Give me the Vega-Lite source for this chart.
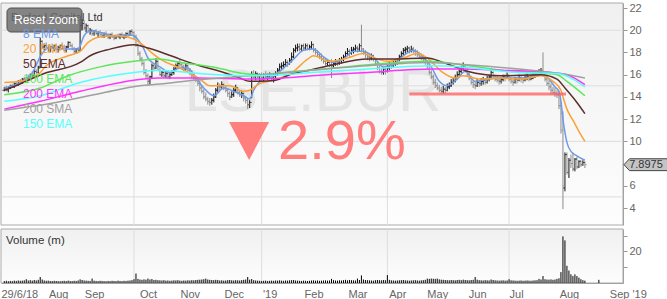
{
"$schema":"https://vega.github.io/schema/vega-lite/v6.json",
"padding":{"left":0,"top":1,"right":0,"bottom":0},
"spacing":4,
"bounds":"flush",
"config":{"font":"Liberation Sans","view":{"stroke":null},"axis":{"domainColor":"#999999","tickColor":"#999999","labelColor":"#666666","labelFontSize":11,"labelOverlap":false}},
"datasets":{
"p":[
{"n":0,"o":14.6,"h":14.9,"l":14.5,"c":14.8,"v":1.2},{"n":1,"o":14.8,"h":15.0,"l":14.5,"c":14.6,"v":1.4},{"n":2,"o":14.6,"h":14.9,"l":14.4,"c":14.8,"v":1.1},{"n":3,"o":14.8,"h":15.1,"l":14.7,"c":15.0,"v":1.3},{"n":4,"o":15.0,"h":15.2,"l":14.8,"c":14.9,"v":1.2},{"n":5,"o":14.9,"h":15.3,"l":14.8,"c":15.2,"v":1.5},{"n":6,"o":15.2,"h":15.4,"l":15.0,"c":15.1,"v":1.3},{"n":7,"o":15.1,"h":15.5,"l":15.0,"c":15.4,"v":1.6},{"n":8,"o":15.4,"h":15.6,"l":15.2,"c":15.3,"v":1.4},{"n":9,"o":15.3,"h":15.7,"l":15.2,"c":15.6,"v":1.5},
{"n":10,"o":15.6,"h":15.8,"l":15.3,"c":15.4,"v":1.7},{"n":11,"o":15.4,"h":15.8,"l":15.3,"c":15.7,"v":2.4},{"n":12,"o":15.7,"h":16.0,"l":15.5,"c":15.6,"v":1.6},{"n":13,"o":15.6,"h":16.1,"l":15.5,"c":16.0,"v":1.8},{"n":14,"o":16.0,"h":16.3,"l":15.8,"c":15.9,"v":1.5},{"n":15,"o":15.9,"h":16.4,"l":15.8,"c":16.3,"v":1.9},{"n":16,"o":16.3,"h":16.5,"l":16.0,"c":16.2,"v":1.6},{"n":17,"o":16.2,"h":16.8,"l":16.1,"c":16.6,"v":2.0},{"n":18,"o":16.7,"h":19.3,"l":16.6,"c":19.0,"v":3.8},{"n":19,"o":19.0,"h":19.1,"l":18.3,"c":18.5,"v":2.2},
{"n":20,"o":18.5,"h":18.8,"l":18.2,"c":18.6,"v":1.6},{"n":21,"o":18.6,"h":18.9,"l":18.3,"c":18.4,"v":1.4},{"n":22,"o":18.4,"h":18.7,"l":18.0,"c":18.2,"v":1.5},{"n":23,"o":18.2,"h":18.6,"l":18.0,"c":18.5,"v":1.3},{"n":24,"o":18.5,"h":18.8,"l":18.3,"c":18.4,"v":1.2},{"n":25,"o":18.4,"h":18.7,"l":18.1,"c":18.6,"v":1.4},{"n":26,"o":18.6,"h":18.8,"l":18.2,"c":18.3,"v":1.3},{"n":27,"o":18.3,"h":18.6,"l":18.0,"c":18.4,"v":1.2},{"n":28,"o":18.4,"h":18.7,"l":18.2,"c":18.6,"v":1.1},{"n":29,"o":18.6,"h":18.9,"l":18.4,"c":18.5,"v":1.3},
{"n":30,"o":18.5,"h":18.7,"l":18.1,"c":18.2,"v":1.4},{"n":31,"o":18.2,"h":18.6,"l":18.0,"c":18.5,"v":1.2},{"n":32,"o":18.5,"h":19.0,"l":18.4,"c":18.9,"v":1.5},{"n":33,"o":18.9,"h":19.0,"l":18.5,"c":18.6,"v":1.3},{"n":34,"o":18.6,"h":18.8,"l":18.2,"c":18.3,"v":1.2},{"n":35,"o":18.3,"h":18.5,"l":17.9,"c":18.1,"v":1.4},{"n":36,"o":18.1,"h":18.4,"l":17.9,"c":18.3,"v":1.3},{"n":37,"o":18.3,"h":18.5,"l":18.0,"c":18.2,"v":1.6},{"n":38,"o":18.2,"h":20.8,"l":18.1,"c":20.4,"v":2.3},{"n":39,"o":20.4,"h":21.0,"l":20.0,"c":20.6,"v":1.9},
{"n":40,"o":20.6,"h":20.9,"l":20.0,"c":20.2,"v":1.6},{"n":41,"o":20.2,"h":20.6,"l":19.8,"c":20.4,"v":1.5},{"n":42,"o":20.4,"h":20.5,"l":19.8,"c":19.9,"v":1.4},{"n":43,"o":19.9,"h":20.2,"l":19.6,"c":20.0,"v":1.3},{"n":44,"o":20.0,"h":20.1,"l":19.5,"c":19.7,"v":2.8},{"n":45,"o":19.7,"h":20.0,"l":19.5,"c":19.9,"v":1.5},{"n":46,"o":19.9,"h":20.1,"l":19.6,"c":19.7,"v":1.3},{"n":47,"o":19.7,"h":19.9,"l":19.4,"c":19.8,"v":1.2},{"n":48,"o":19.8,"h":20.0,"l":19.5,"c":19.6,"v":1.4},{"n":49,"o":19.6,"h":19.8,"l":19.3,"c":19.5,"v":1.3},
{"n":50,"o":19.5,"h":19.8,"l":19.3,"c":19.7,"v":1.2},{"n":51,"o":19.7,"h":19.9,"l":19.4,"c":19.5,"v":1.1},{"n":52,"o":19.5,"h":19.7,"l":19.2,"c":19.4,"v":1.3},{"n":53,"o":19.4,"h":19.7,"l":19.2,"c":19.6,"v":1.2},{"n":54,"o":19.6,"h":19.8,"l":19.3,"c":19.4,"v":1.4},{"n":55,"o":19.4,"h":19.6,"l":19.1,"c":19.3,"v":1.3},{"n":56,"o":19.3,"h":19.6,"l":19.2,"c":19.5,"v":1.2},{"n":57,"o":19.5,"h":19.7,"l":19.3,"c":19.4,"v":1.5},{"n":58,"o":19.4,"h":19.7,"l":19.2,"c":19.6,"v":1.3},{"n":59,"o":19.6,"h":19.8,"l":19.3,"c":19.4,"v":1.2},
{"n":60,"o":19.4,"h":19.6,"l":19.2,"c":19.5,"v":1.4},{"n":61,"o":19.5,"h":19.8,"l":19.3,"c":19.7,"v":1.3},{"n":62,"o":19.7,"h":19.9,"l":19.4,"c":19.6,"v":1.5},{"n":63,"o":19.6,"h":20.0,"l":19.5,"c":19.9,"v":1.6},{"n":64,"o":19.9,"h":20.1,"l":19.6,"c":19.8,"v":1.8},{"n":65,"o":19.8,"h":19.9,"l":19.2,"c":19.4,"v":2.4},{"n":66,"o":19.4,"h":19.6,"l":18.5,"c":18.7,"v":6.0},{"n":67,"o":18.7,"h":18.8,"l":17.7,"c":17.9,"v":2.6},{"n":68,"o":17.9,"h":18.1,"l":17.2,"c":17.4,"v":2.2},{"n":69,"o":17.4,"h":17.6,"l":16.8,"c":17.0,"v":2.0},
{"n":70,"o":17.0,"h":17.2,"l":16.0,"c":16.2,"v":2.3},{"n":71,"o":16.2,"h":16.5,"l":15.6,"c":15.9,"v":2.1},{"n":72,"o":15.9,"h":16.1,"l":15.0,"c":15.4,"v":2.8},{"n":73,"o":15.4,"h":15.9,"l":15.1,"c":15.8,"v":2.2},{"n":74,"o":15.8,"h":17.0,"l":15.7,"c":16.8,"v":2.5},{"n":75,"o":16.8,"h":17.0,"l":16.3,"c":16.6,"v":1.9},{"n":76,"o":16.6,"h":17.5,"l":16.5,"c":17.2,"v":2.0},{"n":77,"o":17.2,"h":17.3,"l":16.3,"c":16.4,"v":1.8},{"n":78,"o":16.4,"h":16.6,"l":15.9,"c":16.0,"v":1.7},{"n":79,"o":16.0,"h":16.4,"l":15.8,"c":16.2,"v":1.6},
{"n":80,"o":16.2,"h":16.4,"l":15.7,"c":15.9,"v":1.8},{"n":81,"o":15.9,"h":16.3,"l":15.7,"c":16.1,"v":1.5},{"n":82,"o":16.1,"h":16.3,"l":15.6,"c":15.8,"v":1.6},{"n":83,"o":15.8,"h":16.2,"l":15.6,"c":16.0,"v":1.4},{"n":84,"o":16.0,"h":16.4,"l":15.9,"c":16.2,"v":1.5},{"n":85,"o":16.2,"h":16.7,"l":16.0,"c":16.5,"v":1.7},{"n":86,"o":16.5,"h":17.0,"l":16.4,"c":16.8,"v":1.6},{"n":87,"o":16.8,"h":17.2,"l":16.6,"c":17.0,"v":1.8},{"n":88,"o":17.0,"h":17.4,"l":16.7,"c":16.9,"v":1.5},{"n":89,"o":16.9,"h":17.1,"l":16.5,"c":16.7,"v":1.4},
{"n":90,"o":16.7,"h":16.9,"l":16.3,"c":16.5,"v":1.6},{"n":91,"o":16.5,"h":17.0,"l":16.4,"c":16.8,"v":1.5},{"n":92,"o":16.8,"h":16.9,"l":16.3,"c":16.4,"v":1.7},{"n":93,"o":16.4,"h":16.6,"l":16.0,"c":16.2,"v":1.6},{"n":94,"o":16.2,"h":16.4,"l":15.7,"c":15.9,"v":1.8},{"n":95,"o":15.9,"h":16.1,"l":15.5,"c":15.7,"v":1.7},{"n":96,"o":15.7,"h":15.9,"l":15.3,"c":15.5,"v":1.9},{"n":97,"o":15.5,"h":15.7,"l":15.0,"c":15.2,"v":2.0},{"n":98,"o":15.2,"h":15.5,"l":14.5,"c":14.8,"v":2.1},{"n":99,"o":14.8,"h":15.0,"l":14.3,"c":14.5,"v":2.2},
{"n":100,"o":14.5,"h":14.7,"l":13.8,"c":14.0,"v":2.4},{"n":101,"o":14.0,"h":14.4,"l":13.6,"c":13.8,"v":2.8},{"n":102,"o":13.8,"h":14.0,"l":13.3,"c":13.6,"v":2.2},{"n":103,"o":13.6,"h":13.9,"l":13.2,"c":13.5,"v":2.0},{"n":104,"o":13.5,"h":13.9,"l":13.3,"c":13.7,"v":1.9},{"n":105,"o":13.7,"h":14.3,"l":13.5,"c":14.0,"v":1.8},{"n":106,"o":14.0,"h":14.8,"l":13.9,"c":14.6,"v":2.0},{"n":107,"o":14.6,"h":15.3,"l":14.4,"c":15.0,"v":1.9},{"n":108,"o":15.0,"h":15.2,"l":14.6,"c":14.9,"v":1.6},{"n":109,"o":14.9,"h":15.4,"l":14.7,"c":15.1,"v":1.7},
{"n":110,"o":15.1,"h":15.2,"l":14.6,"c":14.8,"v":1.5},{"n":111,"o":14.8,"h":15.0,"l":14.4,"c":14.6,"v":1.6},{"n":112,"o":14.6,"h":14.8,"l":14.0,"c":14.3,"v":1.8},{"n":113,"o":14.3,"h":14.5,"l":13.7,"c":14.0,"v":1.9},{"n":114,"o":14.0,"h":14.5,"l":13.9,"c":14.2,"v":1.7},{"n":115,"o":14.2,"h":14.8,"l":14.0,"c":14.6,"v":1.6},{"n":116,"o":14.6,"h":15.1,"l":14.4,"c":14.8,"v":1.8},{"n":117,"o":14.8,"h":14.9,"l":14.2,"c":14.4,"v":1.7},{"n":118,"o":14.4,"h":14.6,"l":14.0,"c":14.2,"v":1.6},{"n":119,"o":14.2,"h":14.6,"l":13.9,"c":14.3,"v":1.8},
{"n":120,"o":14.3,"h":14.4,"l":13.6,"c":13.9,"v":2.0},{"n":121,"o":13.9,"h":14.1,"l":13.4,"c":13.7,"v":2.2},{"n":122,"o":13.7,"h":13.9,"l":12.9,"c":13.3,"v":3.8},{"n":123,"o":13.3,"h":13.7,"l":13.0,"c":13.5,"v":2.1},{"n":124,"o":13.9,"h":16.3,"l":13.9,"c":16.0,"v":2.5},{"n":125,"o":16.0,"h":16.4,"l":15.6,"c":15.8,"v":1.8},{"n":126,"o":15.8,"h":16.3,"l":15.5,"c":16.1,"v":1.6},{"n":127,"o":16.1,"h":16.2,"l":15.6,"c":15.8,"v":1.5},{"n":128,"o":15.8,"h":16.1,"l":15.4,"c":15.9,"v":1.4},{"n":129,"o":15.9,"h":16.2,"l":15.5,"c":15.7,"v":1.3},
{"n":130,"o":15.7,"h":16.1,"l":15.4,"c":16.0,"v":1.4},{"n":131,"o":16.0,"h":16.3,"l":15.6,"c":15.8,"v":1.5},{"n":132,"o":15.8,"h":16.1,"l":15.5,"c":15.9,"v":1.3},{"n":133,"o":15.9,"h":16.2,"l":15.6,"c":16.0,"v":1.4},{"n":134,"o":16.0,"h":16.1,"l":15.4,"c":15.7,"v":1.5},{"n":135,"o":15.7,"h":16.1,"l":15.3,"c":15.9,"v":1.4},{"n":136,"o":15.9,"h":16.3,"l":15.7,"c":16.1,"v":1.6},{"n":137,"o":16.1,"h":16.6,"l":15.9,"c":16.4,"v":1.5},{"n":138,"o":16.4,"h":17.0,"l":16.2,"c":16.7,"v":1.7},{"n":139,"o":16.7,"h":17.1,"l":16.4,"c":16.8,"v":1.5},
{"n":140,"o":16.8,"h":17.2,"l":16.5,"c":16.9,"v":1.4},{"n":141,"o":16.9,"h":17.4,"l":16.7,"c":17.1,"v":1.6},{"n":142,"o":17.1,"h":17.3,"l":16.7,"c":17.0,"v":1.5},{"n":143,"o":17.0,"h":17.5,"l":16.9,"c":17.3,"v":1.7},{"n":144,"o":17.3,"h":18.0,"l":17.1,"c":17.6,"v":1.8},{"n":145,"o":17.6,"h":18.4,"l":17.5,"c":18.2,"v":1.9},{"n":146,"o":18.2,"h":18.7,"l":18.0,"c":18.4,"v":1.6},{"n":147,"o":18.4,"h":18.8,"l":18.1,"c":18.5,"v":1.5},{"n":148,"o":18.5,"h":18.8,"l":18.1,"c":18.3,"v":1.4},{"n":149,"o":18.3,"h":18.7,"l":18.1,"c":18.6,"v":1.3},
{"n":150,"o":18.6,"h":18.8,"l":18.2,"c":18.4,"v":1.5},{"n":151,"o":18.4,"h":18.8,"l":18.2,"c":18.6,"v":1.4},{"n":152,"o":18.6,"h":18.8,"l":18.2,"c":18.3,"v":1.3},{"n":153,"o":18.3,"h":18.7,"l":18.2,"c":18.5,"v":1.4},{"n":154,"o":18.5,"h":19.0,"l":18.3,"c":18.7,"v":1.6},{"n":155,"o":18.7,"h":18.8,"l":18.0,"c":18.2,"v":1.7},{"n":156,"o":18.2,"h":18.4,"l":17.8,"c":18.0,"v":1.5},{"n":157,"o":18.0,"h":18.2,"l":17.6,"c":17.8,"v":1.6},{"n":158,"o":17.8,"h":18.0,"l":17.4,"c":17.6,"v":1.4},{"n":159,"o":17.6,"h":17.9,"l":17.2,"c":17.4,"v":1.5},
{"n":160,"o":17.4,"h":17.6,"l":17.0,"c":17.2,"v":1.6},{"n":161,"o":17.2,"h":17.4,"l":16.8,"c":17.0,"v":1.7},{"n":162,"o":17.0,"h":17.4,"l":16.8,"c":17.1,"v":1.5},{"n":163,"o":17.1,"h":17.3,"l":16.7,"c":16.9,"v":1.6},{"n":164,"o":16.9,"h":17.4,"l":15.7,"c":16.8,"v":2.6},{"n":165,"o":16.8,"h":17.2,"l":16.6,"c":17.0,"v":1.8},{"n":166,"o":17.0,"h":17.4,"l":16.8,"c":17.2,"v":1.6},{"n":167,"o":17.2,"h":17.3,"l":16.8,"c":17.1,"v":1.5},{"n":168,"o":17.1,"h":17.5,"l":16.9,"c":17.3,"v":1.7},{"n":169,"o":17.3,"h":17.6,"l":17.0,"c":17.4,"v":1.6},
{"n":170,"o":17.4,"h":17.8,"l":17.2,"c":17.6,"v":1.8},{"n":171,"o":17.6,"h":18.1,"l":17.4,"c":17.9,"v":2.0},{"n":172,"o":17.9,"h":18.4,"l":17.7,"c":18.1,"v":1.7},{"n":173,"o":18.1,"h":18.3,"l":17.6,"c":17.9,"v":1.9},{"n":174,"o":17.9,"h":18.5,"l":17.8,"c":18.2,"v":1.8},{"n":175,"o":18.2,"h":18.5,"l":17.9,"c":18.3,"v":1.7},{"n":176,"o":18.3,"h":18.7,"l":18.1,"c":18.4,"v":1.6},{"n":177,"o":18.4,"h":18.6,"l":18.0,"c":18.3,"v":2.8},{"n":178,"o":18.3,"h":18.8,"l":18.1,"c":18.6,"v":1.9},{"n":179,"o":18.6,"h":20.5,"l":18.0,"c":18.3,"v":4.8},
{"n":180,"o":18.3,"h":18.4,"l":17.8,"c":18.0,"v":2.2},{"n":181,"o":18.0,"h":18.2,"l":17.5,"c":17.8,"v":1.9},{"n":182,"o":17.8,"h":18.0,"l":17.3,"c":17.6,"v":1.8},{"n":183,"o":17.6,"h":17.9,"l":17.2,"c":17.5,"v":1.7},{"n":184,"o":17.5,"h":17.9,"l":17.3,"c":17.7,"v":1.6},{"n":185,"o":17.7,"h":17.8,"l":17.2,"c":17.4,"v":1.5},{"n":186,"o":17.4,"h":17.5,"l":16.8,"c":17.0,"v":1.8},{"n":187,"o":17.0,"h":17.2,"l":16.4,"c":16.6,"v":1.9},{"n":188,"o":16.6,"h":16.8,"l":16.1,"c":16.3,"v":1.8},{"n":189,"o":16.3,"h":16.6,"l":16.0,"c":16.2,"v":1.7},
{"n":190,"o":16.2,"h":16.7,"l":16.0,"c":16.5,"v":1.9},{"n":191,"o":16.5,"h":16.6,"l":16.0,"c":16.3,"v":1.8},{"n":192,"o":16.3,"h":17.0,"l":16.2,"c":16.6,"v":5.0},{"n":193,"o":16.6,"h":17.2,"l":16.4,"c":16.9,"v":2.0},{"n":194,"o":16.9,"h":17.1,"l":16.5,"c":16.8,"v":1.7},{"n":195,"o":16.8,"h":17.3,"l":16.7,"c":17.0,"v":1.6},{"n":196,"o":17.0,"h":17.4,"l":16.8,"c":17.1,"v":1.5},{"n":197,"o":17.1,"h":17.5,"l":16.9,"c":17.3,"v":1.6},{"n":198,"o":17.3,"h":17.8,"l":17.2,"c":17.6,"v":1.7},{"n":199,"o":17.6,"h":18.1,"l":17.4,"c":17.9,"v":1.8},
{"n":200,"o":17.9,"h":18.4,"l":17.7,"c":18.2,"v":1.9},{"n":201,"o":18.2,"h":18.5,"l":17.9,"c":18.3,"v":1.7},{"n":202,"o":18.3,"h":18.6,"l":18.0,"c":18.4,"v":1.6},{"n":203,"o":18.4,"h":18.5,"l":17.9,"c":18.2,"v":1.5},{"n":204,"o":18.2,"h":18.6,"l":18.0,"c":18.3,"v":1.6},{"n":205,"o":18.3,"h":18.5,"l":17.9,"c":18.1,"v":1.7},{"n":206,"o":18.1,"h":18.3,"l":17.7,"c":17.9,"v":1.8},{"n":207,"o":17.9,"h":18.2,"l":17.6,"c":17.8,"v":1.6},{"n":208,"o":17.8,"h":18.0,"l":17.4,"c":17.6,"v":1.5},{"n":209,"o":17.6,"h":17.9,"l":17.3,"c":17.5,"v":1.7},
{"n":210,"o":17.5,"h":17.8,"l":17.2,"c":17.4,"v":1.8},{"n":211,"o":17.4,"h":17.6,"l":16.9,"c":17.1,"v":2.0},{"n":212,"o":17.1,"h":17.3,"l":16.5,"c":16.8,"v":2.8},{"n":213,"o":16.8,"h":16.9,"l":16.0,"c":16.2,"v":2.6},{"n":214,"o":16.2,"h":16.4,"l":15.6,"c":15.8,"v":2.8},{"n":215,"o":15.8,"h":16.0,"l":15.1,"c":15.3,"v":2.7},{"n":216,"o":15.3,"h":15.6,"l":14.8,"c":15.0,"v":2.6},{"n":217,"o":15.0,"h":15.3,"l":14.6,"c":14.8,"v":2.8},{"n":218,"o":14.8,"h":15.1,"l":14.4,"c":14.6,"v":2.3},{"n":219,"o":14.6,"h":14.9,"l":14.3,"c":14.5,"v":2.1},
{"n":220,"o":14.5,"h":15.0,"l":14.3,"c":14.7,"v":2.0},{"n":221,"o":14.7,"h":14.9,"l":14.3,"c":14.6,"v":1.9},{"n":222,"o":14.6,"h":15.2,"l":14.5,"c":14.9,"v":1.8},{"n":223,"o":14.9,"h":15.3,"l":14.7,"c":15.0,"v":1.7},{"n":224,"o":15.0,"h":15.6,"l":14.9,"c":15.3,"v":1.9},{"n":225,"o":15.3,"h":15.7,"l":15.1,"c":15.4,"v":1.8},{"n":226,"o":15.4,"h":16.0,"l":15.3,"c":15.7,"v":1.7},{"n":227,"o":15.7,"h":16.3,"l":15.6,"c":16.0,"v":1.9},{"n":228,"o":16.0,"h":16.6,"l":15.9,"c":16.3,"v":2.0},{"n":229,"o":16.3,"h":16.8,"l":16.1,"c":16.5,"v":1.8},
{"n":230,"o":16.5,"h":17.1,"l":16.4,"c":16.8,"v":2.1},{"n":231,"o":16.8,"h":16.9,"l":16.2,"c":16.4,"v":1.9},{"n":232,"o":16.4,"h":16.6,"l":15.8,"c":16.0,"v":1.8},{"n":233,"o":16.0,"h":16.2,"l":15.5,"c":15.7,"v":1.7},{"n":234,"o":15.7,"h":15.9,"l":15.1,"c":15.3,"v":1.9},{"n":235,"o":15.3,"h":15.5,"l":14.8,"c":15.1,"v":2.0},{"n":236,"o":15.1,"h":15.4,"l":14.7,"c":15.0,"v":3.8},{"n":237,"o":15.0,"h":15.6,"l":14.9,"c":15.3,"v":2.1},{"n":238,"o":15.3,"h":15.5,"l":14.9,"c":15.2,"v":1.8},{"n":239,"o":15.2,"h":15.7,"l":15.0,"c":15.4,"v":1.7},
{"n":240,"o":15.4,"h":15.8,"l":15.1,"c":15.5,"v":1.6},{"n":241,"o":15.5,"h":15.7,"l":15.1,"c":15.3,"v":1.8},{"n":242,"o":15.3,"h":15.9,"l":15.2,"c":15.6,"v":1.7},{"n":243,"o":15.6,"h":16.0,"l":15.4,"c":15.8,"v":1.6},{"n":244,"o":15.8,"h":16.6,"l":15.7,"c":16.2,"v":2.2},{"n":245,"o":16.2,"h":16.3,"l":15.7,"c":15.9,"v":1.9},{"n":246,"o":15.9,"h":16.0,"l":15.4,"c":15.6,"v":1.7},{"n":247,"o":15.6,"h":15.9,"l":15.3,"c":15.5,"v":1.6},{"n":248,"o":15.5,"h":15.8,"l":15.1,"c":15.4,"v":1.5},{"n":249,"o":15.4,"h":15.8,"l":15.2,"c":15.6,"v":1.6},
{"n":250,"o":15.6,"h":16.0,"l":15.4,"c":15.8,"v":1.7},{"n":251,"o":15.8,"h":16.0,"l":15.4,"c":15.7,"v":1.5},{"n":252,"o":15.7,"h":16.2,"l":15.6,"c":15.9,"v":1.6},{"n":253,"o":15.9,"h":16.0,"l":15.4,"c":15.6,"v":2.4},{"n":254,"o":15.6,"h":15.8,"l":15.2,"c":15.4,"v":1.7},{"n":255,"o":15.4,"h":15.6,"l":15.0,"c":15.3,"v":1.6},{"n":256,"o":15.3,"h":15.8,"l":15.2,"c":15.6,"v":1.5},{"n":257,"o":15.6,"h":15.8,"l":15.2,"c":15.5,"v":1.4},{"n":258,"o":15.5,"h":16.0,"l":15.4,"c":15.7,"v":1.5},{"n":259,"o":15.7,"h":15.9,"l":15.3,"c":15.6,"v":1.6},
{"n":260,"o":15.6,"h":15.8,"l":15.2,"c":15.5,"v":1.4},{"n":261,"o":15.5,"h":16.0,"l":15.4,"c":15.7,"v":1.5},{"n":262,"o":15.7,"h":16.1,"l":15.5,"c":15.8,"v":1.6},{"n":263,"o":15.8,"h":16.0,"l":15.4,"c":15.6,"v":1.5},{"n":264,"o":15.6,"h":16.0,"l":15.5,"c":15.7,"v":1.4},{"n":265,"o":15.7,"h":16.2,"l":15.6,"c":15.9,"v":1.6},{"n":266,"o":15.9,"h":16.3,"l":15.7,"c":16.0,"v":1.7},{"n":267,"o":16.0,"h":16.4,"l":15.8,"c":16.1,"v":1.8},{"n":268,"o":16.1,"h":16.5,"l":15.9,"c":16.2,"v":2.6},{"n":269,"o":16.2,"h":16.6,"l":16.0,"c":16.3,"v":2.2},
{"n":270,"o":16.4,"h":18.0,"l":15.8,"c":16.1,"v":4.4},{"n":271,"o":16.1,"h":16.2,"l":15.4,"c":15.6,"v":2.4},{"n":272,"o":15.6,"h":15.8,"l":15.0,"c":15.2,"v":2.2},{"n":273,"o":15.2,"h":15.5,"l":14.6,"c":14.9,"v":2.1},{"n":274,"o":14.9,"h":15.2,"l":14.2,"c":14.6,"v":2.3},{"n":275,"o":14.6,"h":14.9,"l":14.2,"c":14.4,"v":2.0},{"n":276,"o":14.4,"h":14.8,"l":14.0,"c":14.3,"v":2.2},{"n":277,"o":14.3,"h":14.6,"l":13.9,"c":14.2,"v":2.6},{"n":278,"o":14.2,"h":14.5,"l":12.9,"c":13.2,"v":3.0},{"n":279,"o":13.2,"h":13.6,"l":10.7,"c":11.0,"v":6.9},
{"n":280,"o":12.5,"h":12.7,"l":3.9,"c":6.0,"v":29.5},{"n":281,"o":5.8,"h":9.0,"l":5.5,"c":8.8,"v":27.0},{"n":282,"o":8.8,"h":9.0,"l":7.0,"c":7.2,"v":10.9},{"n":283,"o":7.2,"h":8.5,"l":6.7,"c":8.3,"v":7.9},{"n":284,"o":8.3,"h":8.8,"l":7.6,"c":8.0,"v":5.5},{"n":285,"o":8.0,"h":9.0,"l":7.3,"c":7.5,"v":4.4},{"n":286,"o":7.5,"h":8.5,"l":7.3,"c":8.4,"v":5.5},{"n":287,"o":8.4,"h":8.6,"l":7.5,"c":7.7,"v":4.4},{"n":288,"o":7.7,"h":8.3,"l":7.6,"c":8.2,"v":3.4},{"n":289,"o":8.2,"h":8.3,"l":7.7,"c":7.9,"v":2.4},
{"n":290,"o":7.9,"h":8.3,"l":7.8,"c":8.1,"v":1.8},{"n":291,"o":8.1,"h":8.2,"l":7.6,"c":7.8975,"v":1.5},{"n":298,"v":2.0}
],
"ema":[
{"s":"8 EMA","n":0,"v":14.8},{"s":"8 EMA","n":13,"v":15.9},{"s":"8 EMA","n":19,"v":17.9},{"s":"8 EMA","n":22,"v":18.4},{"s":"8 EMA","n":32,"v":18.3},{"s":"8 EMA","n":37,"v":18.3},{"s":"8 EMA","n":40,"v":19.5},{"s":"8 EMA","n":43,"v":19.9},{"s":"8 EMA","n":48,"v":19.8},{"s":"8 EMA","n":55,"v":19.5},{"s":"8 EMA","n":62,"v":19.6},{"s":"8 EMA","n":65,"v":19.5},{"s":"8 EMA","n":68,"v":18.9},{"s":"8 EMA","n":70,"v":18.3},{"s":"8 EMA","n":72,"v":17.5},{"s":"8 EMA","n":75,"v":17.0},{"s":"8 EMA","n":78,"v":16.7},{"s":"8 EMA","n":83,"v":16.2},{"s":"8 EMA","n":88,"v":16.6},{"s":"8 EMA","n":92,"v":16.6},{"s":"8 EMA","n":95,"v":16.0},{"s":"8 EMA","n":100,"v":14.8},{"s":"8 EMA","n":105,"v":14.1},{"s":"8 EMA","n":110,"v":14.8},{"s":"8 EMA","n":115,"v":14.5},{"s":"8 EMA","n":120,"v":14.1},{"s":"8 EMA","n":123,"v":13.8},{"s":"8 EMA","n":125,"v":14.6},{"s":"8 EMA","n":129,"v":15.5},{"s":"8 EMA","n":135,"v":15.9},{"s":"8 EMA","n":140,"v":16.6},{"s":"8 EMA","n":145,"v":17.4},{"s":"8 EMA","n":150,"v":18.2},{"s":"8 EMA","n":155,"v":18.3},{"s":"8 EMA","n":160,"v":17.6},{"s":"8 EMA","n":165,"v":17.1},{"s":"8 EMA","n":170,"v":17.4},{"s":"8 EMA","n":175,"v":18.1},{"s":"8 EMA","n":180,"v":18.1},{"s":"8 EMA","n":185,"v":17.6},{"s":"8 EMA","n":190,"v":16.7},{"s":"8 EMA","n":195,"v":16.9},{"s":"8 EMA","n":200,"v":17.7},{"s":"8 EMA","n":205,"v":18.2},{"s":"8 EMA","n":210,"v":17.6},{"s":"8 EMA","n":214,"v":16.7},{"s":"8 EMA","n":218,"v":15.4},{"s":"8 EMA","n":222,"v":15.0},{"s":"8 EMA","n":227,"v":15.6},{"s":"8 EMA","n":231,"v":16.3},{"s":"8 EMA","n":236,"v":15.4},{"s":"8 EMA","n":243,"v":15.6},{"s":"8 EMA","n":248,"v":15.7},{"s":"8 EMA","n":253,"v":15.7},{"s":"8 EMA","n":262,"v":15.7},{"s":"8 EMA","n":269,"v":16.1},{"s":"8 EMA","n":272,"v":15.8},{"s":"8 EMA","n":276,"v":14.9},{"s":"8 EMA","n":278,"v":14.5},{"s":"8 EMA","n":279,"v":13.6},{"s":"8 EMA","n":280,"v":12.0},{"s":"8 EMA","n":281,"v":10.8},{"s":"8 EMA","n":282,"v":9.9},{"s":"8 EMA","n":284,"v":9.1},{"s":"8 EMA","n":287,"v":8.7},{"s":"8 EMA","n":291,"v":8.3},
{"s":"20 EMA","n":0,"v":15.3},{"s":"20 EMA","n":8,"v":15.4},{"s":"20 EMA","n":17,"v":16.0},{"s":"20 EMA","n":21,"v":16.8},{"s":"20 EMA","n":32,"v":17.7},{"s":"20 EMA","n":38,"v":18.1},{"s":"20 EMA","n":42,"v":18.9},{"s":"20 EMA","n":48,"v":19.4},{"s":"20 EMA","n":57,"v":19.5},{"s":"20 EMA","n":65,"v":19.2},{"s":"20 EMA","n":70,"v":18.6},{"s":"20 EMA","n":75,"v":17.8},{"s":"20 EMA","n":79,"v":17.3},{"s":"20 EMA","n":88,"v":16.6},{"s":"20 EMA","n":98,"v":15.6},{"s":"20 EMA","n":103,"v":15.0},{"s":"20 EMA","n":113,"v":15.0},{"s":"20 EMA","n":120,"v":14.5},{"s":"20 EMA","n":123,"v":14.6},{"s":"20 EMA","n":128,"v":15.2},{"s":"20 EMA","n":137,"v":15.6},{"s":"20 EMA","n":145,"v":16.3},{"s":"20 EMA","n":152,"v":17.4},{"s":"20 EMA","n":155,"v":17.7},{"s":"20 EMA","n":163,"v":17.2},{"s":"20 EMA","n":172,"v":17.5},{"s":"20 EMA","n":180,"v":17.9},{"s":"20 EMA","n":187,"v":17.4},{"s":"20 EMA","n":192,"v":17.2},{"s":"20 EMA","n":200,"v":17.5},{"s":"20 EMA","n":207,"v":17.9},{"s":"20 EMA","n":212,"v":17.5},{"s":"20 EMA","n":219,"v":16.3},{"s":"20 EMA","n":226,"v":15.7},{"s":"20 EMA","n":230,"v":15.9},{"s":"20 EMA","n":239,"v":15.6},{"s":"20 EMA","n":249,"v":15.7},{"s":"20 EMA","n":259,"v":15.6},{"s":"20 EMA","n":269,"v":15.9},{"s":"20 EMA","n":275,"v":15.4},{"s":"20 EMA","n":279,"v":14.6},{"s":"20 EMA","n":280,"v":14.0},{"s":"20 EMA","n":282,"v":12.9},{"s":"20 EMA","n":285,"v":11.9},{"s":"20 EMA","n":288,"v":10.9},{"s":"20 EMA","n":291,"v":10.0},
{"s":"50 EMA","n":0,"v":14.6},{"s":"50 EMA","n":3,"v":14.8},{"s":"50 EMA","n":20,"v":16.1},{"s":"50 EMA","n":38,"v":17.1},{"s":"50 EMA","n":43,"v":17.7},{"s":"50 EMA","n":53,"v":18.3},{"s":"50 EMA","n":65,"v":18.7},{"s":"50 EMA","n":72,"v":18.4},{"s":"50 EMA","n":79,"v":18.0},{"s":"50 EMA","n":88,"v":17.4},{"s":"50 EMA","n":98,"v":16.8},{"s":"50 EMA","n":108,"v":16.3},{"s":"50 EMA","n":118,"v":15.7},{"s":"50 EMA","n":123,"v":15.4},{"s":"50 EMA","n":128,"v":15.4},{"s":"50 EMA","n":136,"v":15.5},{"s":"50 EMA","n":143,"v":16.0},{"s":"50 EMA","n":153,"v":16.4},{"s":"50 EMA","n":165,"v":16.9},{"s":"50 EMA","n":182,"v":17.4},{"s":"50 EMA","n":195,"v":17.4},{"s":"50 EMA","n":212,"v":17.5},{"s":"50 EMA","n":220,"v":17.1},{"s":"50 EMA","n":229,"v":16.5},{"s":"50 EMA","n":232,"v":16.3},{"s":"50 EMA","n":249,"v":15.9},{"s":"50 EMA","n":269,"v":16.0},{"s":"50 EMA","n":277,"v":15.6},{"s":"50 EMA","n":281,"v":14.8},{"s":"50 EMA","n":287,"v":13.5},{"s":"50 EMA","n":291,"v":12.5},
{"s":"100 EMA","n":0,"v":14.2},{"s":"100 EMA","n":18,"v":14.8},{"s":"100 EMA","n":32,"v":15.9},{"s":"100 EMA","n":48,"v":16.7},{"s":"100 EMA","n":65,"v":17.2},{"s":"100 EMA","n":77,"v":17.4},{"s":"100 EMA","n":88,"v":17.1},{"s":"100 EMA","n":107,"v":16.6},{"s":"100 EMA","n":120,"v":16.1},{"s":"100 EMA","n":128,"v":16.0},{"s":"100 EMA","n":140,"v":16.2},{"s":"100 EMA","n":153,"v":16.4},{"s":"100 EMA","n":165,"v":16.6},{"s":"100 EMA","n":190,"v":17.0},{"s":"100 EMA","n":212,"v":17.2},{"s":"100 EMA","n":229,"v":16.9},{"s":"100 EMA","n":249,"v":16.4},{"s":"100 EMA","n":271,"v":16.1},{"s":"100 EMA","n":277,"v":16.0},{"s":"100 EMA","n":282,"v":15.4},{"s":"100 EMA","n":291,"v":14.1},
{"s":"200 EMA","n":0,"v":12.9},{"s":"200 EMA","n":18,"v":13.6},{"s":"200 EMA","n":38,"v":14.5},{"s":"200 EMA","n":65,"v":15.5},{"s":"200 EMA","n":77,"v":15.7},{"s":"200 EMA","n":98,"v":15.7},{"s":"200 EMA","n":124,"v":15.6},{"s":"200 EMA","n":140,"v":15.7},{"s":"200 EMA","n":154,"v":15.9},{"s":"200 EMA","n":182,"v":16.2},{"s":"200 EMA","n":215,"v":16.5},{"s":"200 EMA","n":229,"v":16.5},{"s":"200 EMA","n":249,"v":16.4},{"s":"200 EMA","n":274,"v":16.2},{"s":"200 EMA","n":282,"v":16.0},{"s":"200 EMA","n":291,"v":15.1},
{"s":"200 SMA","n":0,"v":12.8},{"s":"200 SMA","n":23,"v":13.4},{"s":"200 SMA","n":48,"v":14.3},{"s":"200 SMA","n":68,"v":15.0},{"s":"200 SMA","n":78,"v":15.15},{"s":"200 SMA","n":95,"v":15.5},{"s":"200 SMA","n":124,"v":15.9},{"s":"200 SMA","n":154,"v":16.4},{"s":"200 SMA","n":182,"v":16.8},{"s":"200 SMA","n":212,"v":17.1},{"s":"200 SMA","n":232,"v":16.9},{"s":"200 SMA","n":269,"v":16.3},{"s":"200 SMA","n":279,"v":16.1},{"s":"200 SMA","n":291,"v":15.7},
{"s":"150 EMA","n":0,"v":13.6},{"s":"150 EMA","n":18,"v":14.1},{"s":"150 EMA","n":38,"v":15.3},{"s":"150 EMA","n":65,"v":16.2},{"s":"150 EMA","n":77,"v":16.4},{"s":"150 EMA","n":98,"v":16.1},{"s":"150 EMA","n":124,"v":15.9},{"s":"150 EMA","n":140,"v":16.0},{"s":"150 EMA","n":154,"v":16.2},{"s":"150 EMA","n":182,"v":16.5},{"s":"150 EMA","n":215,"v":16.8},{"s":"150 EMA","n":229,"v":16.7},{"s":"150 EMA","n":257,"v":16.2},{"s":"150 EMA","n":277,"v":16.1},{"s":"150 EMA","n":285,"v":15.6},{"s":"150 EMA","n":291,"v":14.9}
]
},
"vconcat":[
{
"width":622,"height":222,
"layer":[
{"data":{"values":[{}]},"mark":{"type":"rect","stroke":"#aaaaaa","strokeWidth":1,"fill":{"gradient":"linear","x1":0,"y1":0,"x2":0,"y2":1,"stops":[{"offset":0,"color":"#f0f0f0"},{"offset":1,"color":"#fdfdfd"}]}},
 "encoding":{"x":{"datum":-1.65,"type":"quantitative","axis":null},"x2":{"datum":310.1},
 "y":{"datum":2.47,"type":"quantitative","scale":{"domain":[2.47,22.45],"nice":false,"zero":false},"axis":{"orient":"right","values":[4,6,8,10,12,14,16,18,20,22],"tickCount":20,"labelExpr":"datum.value == 8 ? '' : datum.label","labelOverlap":false,"title":null,"grid":false,"tickSize":4,"labelPadding":2}},"y2":{"datum":22.45}}},
{"data":{"values":[{"g":5},{"g":10},{"g":15},{"g":20}]},"mark":{"type":"rule","color":"#dddddd","strokeWidth":1},"encoding":{"y":{"field":"g","type":"quantitative"}}},
{"data":{"values":[{"g":65},{"g":129},{"g":192},{"g":253}]},"mark":{"type":"rule","color":"#dddddd","strokeWidth":1},"encoding":{"x":{"field":"g","type":"quantitative","axis":null}}},
{"data":{"values":[{"t":"LSE.BUR"}]},"mark":{"type":"text","fontSize":60,"color":"#e4e4e4","align":"center","baseline":"alphabetic"},"encoding":{"text":{"field":"t"},"x":{"datum":154.7,"type":"quantitative","axis":null},"y":{"datum":12.75,"type":"quantitative"}}},
{"data":{"name":"p"},"mark":{"type":"rule","strokeWidth":1},
 "encoding":{"x":{"field":"n","type":"quantitative","scale":{"domain":[-1.65,310.1],"nice":false,"zero":false},"axis":null},
 "y":{"field":"l","type":"quantitative","scale":{"domain":[2.47,22.45],"nice":false,"zero":false},"axis":{"orient":"right","values":[4,6,8,10,12,14,16,18,20,22],"tickCount":20,"labelExpr":"datum.value == 8 ? '' : datum.label","labelOverlap":false,"title":null,"grid":false,"tickSize":4,"labelPadding":2}},
 "y2":{"field":"h"},
 "color":{"condition":{"test":"datum.c >= datum.o","value":"#111111"},"value":"#8c8c8c"}}},
{"data":{"name":"p"},"mark":{"type":"tick","orient":"horizontal","size":2,"thickness":1,"xOffset":-1},
 "encoding":{"x":{"field":"n","type":"quantitative","axis":null},"y":{"field":"o","type":"quantitative"},"color":{"condition":{"test":"datum.c >= datum.o","value":"#111111"},"value":"#8c8c8c"}}},
{"data":{"name":"p"},"mark":{"type":"tick","orient":"horizontal","size":2,"thickness":1,"xOffset":1},
 "encoding":{"x":{"field":"n","type":"quantitative","axis":null},"y":{"field":"c","type":"quantitative"},"color":{"condition":{"test":"datum.c >= datum.o","value":"#111111"},"value":"#8c8c8c"}}},
{"data":{"name":"ema"},"mark":{"type":"line","strokeWidth":1.5,"interpolate":"monotone"},
 "encoding":{"x":{"field":"n","type":"quantitative","axis":null},"y":{"field":"v","type":"quantitative"},
 "color":{"field":"s","type":"nominal","scale":{"domain":["8 EMA","20 EMA","50 EMA","100 EMA","200 EMA","200 SMA","150 EMA"],"range":["#6f9ae6","#f9a135","#5c2d2d","#5ce65c","#ff33ff","#a0a0a0","#55ffff"]},
 "legend":{"orient":"none","legendX":10,"legendY":25,"title":null,"symbolSize":0,"symbolStrokeWidth":0,"symbolOpacity":0,"labelOffset":0,"labelFontSize":12,"rowPadding":3,"padding":0,"labelLimit":200,
 "encode":{"labels":{"update":{"fill":{"signal":"datum.value == '8 EMA' ? '#6f9ae6' : datum.value == '20 EMA' ? '#f9a135' : datum.value == '50 EMA' ? '#5c2d2d' : datum.value == '100 EMA' ? '#5ce65c' : datum.value == '200 EMA' ? '#ff33ff' : datum.value == '200 SMA' ? '#a0a0a0' : '#55ffff'"}}}}}}}},
{"data":{"values":[{"a":203,"b":281.5,"y":14.25}]},"mark":{"type":"rule","color":"#ff5c5c","strokeWidth":3,"opacity":0.75},
 "encoding":{"x":{"field":"a","type":"quantitative","axis":null},"x2":{"field":"b"},"y":{"field":"y","type":"quantitative"}}},
{"data":{"values":[{}]},"mark":{"type":"point","shape":"M-1,-0.95L1,-0.95L0,0.95Z","size":1600,"filled":true,"color":"#ff7f7f","opacity":1,"strokeWidth":0},
 "encoding":{"x":{"datum":122.7,"type":"quantitative","axis":null},"y":{"datum":10.03,"type":"quantitative"}}},
{"data":{"values":[{"t":"2.9%"}]},"mark":{"type":"text","fontSize":56,"color":"#ff7f7f","align":"left","baseline":"alphabetic"},
 "encoding":{"text":{"field":"t"},"x":{"datum":137.2,"type":"quantitative","axis":null},"y":{"datum":8.41,"type":"quantitative"}}},
{"data":{"values":[{"t":"Burford Capital Ltd"}]},"mark":{"type":"text","fontSize":11,"color":"#333333","align":"left","baseline":"alphabetic"},
 "encoding":{"text":{"field":"t"},"x":{"datum":3.36,"type":"quantitative","axis":null},"y":{"datum":20.8,"type":"quantitative"}}},
{"data":{"values":[{}]},"mark":{"type":"rect","cornerRadius":4,"fill":"#6b6b6b","fillOpacity":0.82,"stroke":"#505050","strokeWidth":1},
 "encoding":{"x":{"datum":1.35,"type":"quantitative","axis":null},"x2":{"datum":38.95},"y":{"datum":22.0,"type":"quantitative"},"y2":{"datum":19.84}}},
{"data":{"values":[{"t":"Reset zoom"}]},"mark":{"type":"text","fontSize":12,"color":"#ffffff","align":"left","baseline":"alphabetic"},
 "encoding":{"text":{"field":"t"},"x":{"datum":4.86,"type":"quantitative","axis":null},"y":{"datum":20.6,"type":"quantitative"}}},
{"data":{"values":[{"last":7.8975}]},"mark":{"type":"point","shape":"M0,0L0.25,-0.27L2,-0.27L2,0.27L0.25,0.27Z","size":1936,"filled":true,"fill":"#c4c4c4","stroke":"#444444","strokeWidth":1,"opacity":1},
 "encoding":{"x":{"datum":310.6,"type":"quantitative","axis":null},"y":{"field":"last","type":"quantitative"}}},
{"data":{"values":[{"last":7.8975}]},"mark":{"type":"text","fontSize":11,"color":"#333333","align":"center","baseline":"middle","dx":22},
 "encoding":{"text":{"field":"last","format":".4f"},"x":{"datum":310.6,"type":"quantitative","axis":null},"y":{"field":"last","type":"quantitative"}}}
]
},
{
"width":622,"height":54,
"layer":[
{"data":{"values":[{}]},"mark":{"type":"rect","stroke":"#aaaaaa","strokeWidth":1,"fill":{"gradient":"linear","x1":0,"y1":0,"x2":0,"y2":1,"stops":[{"offset":0,"color":"#f0f0f0"},{"offset":1,"color":"#fdfdfd"}]}},
 "encoding":{"x":{"datum":-1.65,"type":"quantitative"},"x2":{"datum":310.1},"y":{"datum":0,"type":"quantitative"},"y2":{"datum":34.2}}},
{"data":{"values":[{"g":65},{"g":129},{"g":192},{"g":253}]},"mark":{"type":"rule","color":"#dddddd","strokeWidth":1},"encoding":{"x":{"field":"g","type":"quantitative"}}},
{"data":{"name":"p"},"mark":{"type":"rule","color":"#000000","strokeWidth":1},
 "encoding":{"x":{"field":"n","type":"quantitative","scale":{"domain":[-1.65,310.1],"nice":false,"zero":false},
  "axis":{"values":[-1.65,27,45,72,93,115,133,155,177,197,217,237,256.5,283,310],"tickCount":40,
  "labelExpr":"datum.value < 0 ? '29/6/18' : datum.value < 30 ? 'Aug' : datum.value < 50 ? 'Sep' : datum.value < 80 ? 'Oct' : datum.value < 100 ? 'Nov' : datum.value < 120 ? 'Dec' : datum.value < 140 ? \"'19\" : datum.value < 160 ? 'Feb' : datum.value < 180 ? 'Mar' : datum.value < 200 ? 'Apr' : datum.value < 220 ? 'May' : datum.value < 240 ? 'Jun' : datum.value < 260 ? 'Jul' : datum.value < 290 ? 'Aug' : \"Sep '19\"",
  "labelAlign":{"condition":{"test":"datum.value < 0","value":"left"},"value":"center"},
  "labelOffset":{"condition":{"test":"datum.value > 300","value":5},"value":0},
  "labelFlush":false,"labelOverlap":false,"ticks":false,"grid":false,"title":null,"labelPadding":5}},
 "y":{"field":"v","type":"quantitative","scale":{"domain":[0,34.2],"nice":false,"zero":true},"axis":{"orient":"right","values":[10,20,30],"tickCount":10,"labelExpr":"datum.value == 20 ? '20' : ''","labelOverlap":false,"title":null,"grid":false,"tickSize":4,"labelPadding":2}},
 "y2":{"datum":0}}},
{"data":{"values":[{"t":"Volume (m)"}]},"mark":{"type":"text","fontSize":11.5,"color":"#333333","align":"left","baseline":"alphabetic"},
 "encoding":{"text":{"field":"t"},"x":{"datum":0.85,"type":"quantitative"},"y":{"datum":24.7,"type":"quantitative"}}}
]
}
]
}
